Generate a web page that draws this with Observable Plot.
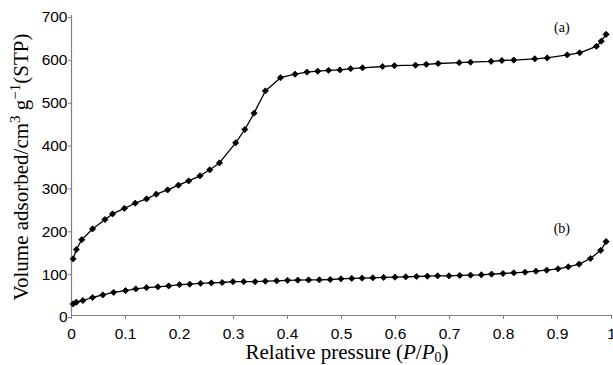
<!DOCTYPE html>
<html>
<head>
<meta charset="utf-8">
<script src="https://cdn.jsdelivr.net/npm/d3@7"></script>
<script src="https://cdn.jsdelivr.net/npm/@observablehq/plot@0.6"></script>
<style>
  html, body { margin: 0; padding: 0; background: #fff; }
  #chart svg { display: block; overflow: hidden; }
</style>
</head>
<body>
<div id="chart"></div>
<script>
// Series (a)
const xA = [0.003,0.009,0.019,0.039,0.062,0.076,0.098,0.118,0.139,0.157,
            0.178,0.198,0.217,0.238,0.256,0.274,0.304,0.321,0.338,0.359,
            0.387,0.414,0.436,0.456,0.476,0.497,0.517,0.539,0.576,0.598,
            0.637,0.657,0.679,0.718,0.739,0.777,0.797,0.819,0.858,0.881,
            0.918,0.941,0.972,0.981,0.99];
const yA = [132,154,177,202,224,237,250,262,272,283,
            293,304,314,326,340,356,403,434,472,524,
            555,563,568,570,572,573,576,578,581,583,
            584,586,588,590,591,593,595,596,599,601,
            608,613,628,640,656];
// Series (b)
const xB = [0.003,0.009,0.021,0.039,0.058,0.078,0.1,0.119,0.139,0.16,
            0.18,0.2,0.219,0.239,0.259,0.279,0.299,0.319,0.34,0.359,
            0.38,0.4,0.419,0.439,0.459,0.479,0.499,0.519,0.538,0.558,
            0.578,0.599,0.619,0.639,0.659,0.678,0.699,0.719,0.739,0.759,
            0.778,0.799,0.819,0.84,0.86,0.88,0.901,0.92,0.94,0.961,
            0.98,0.99];
const yB = [27,31,35,42,48,54,58,62,65,67,
            69,72,73,75,76,77,79,79,79,80,
            81,82,82.5,83,83.3,84,85.6,86.4,87.2,88,
            88.8,89.5,90.3,91,91.8,92.6,92.6,93.4,94.2,95,
            96.5,98,99.6,101,103.5,105.8,109,113.6,119.8,133,
            152,172.5];

const xTicks = [0,0.1,0.2,0.3,0.4,0.5,0.6,0.7,0.8,0.9,1];
const yTicks = [0,100,200,300,400,500,600,700];

const seriesLabels = ["(a)", "(b)"];
const labelX = [0.908, 0.908];
const labelY = [672, 203];

const xTitle = "Relative pressure";
const yTitle = "Volume adsorbed/cm";

const dataA = xA.map((x, i) => ({x, y: yA[i]}));
const dataB = xB.map((x, i) => ({x, y: yB[i]}));
const labels = seriesLabels.map((t, i) => ({t, x: labelX[i], y: labelY[i]}));

const axisColor = "#808080";
const sans = "Liberation Sans";
const serif = "Liberation Serif";

const plot = Plot.plot({
  width: 613,
  height: 365,
  marginLeft: 71,
  marginRight: 2,
  marginTop: 15,
  marginBottom: 50,
  style: {fontFamily: sans, background: "#fff", color: "#000"},
  x: {domain: [0, 1]},
  y: {domain: [0, 700]},
  marks: [
    Plot.axisX({ticks: xTicks, tickFormat: d => String(d), tickSize: 4, tickPadding: 8,
                fontSize: 15.5, fontFamily: sans, label: null, stroke: axisColor}),
    Plot.axisY({ticks: yTicks, tickFormat: d => String(d), tickSize: 3, tickPadding: 1,
                fontSize: 15.5, fontFamily: sans, label: null, stroke: axisColor, dy: 2}),
    Plot.ruleY([0], {stroke: axisColor, strokeWidth: 1.2}),
    Plot.ruleX([0], {stroke: axisColor, strokeWidth: 1.2}),
    Plot.line(dataA, {x: "x", y: "y", stroke: "#000", strokeWidth: 1.3}),
    Plot.dot(dataA, {x: "x", y: "y", symbol: "diamond2", r: 2.8, fill: "#000", stroke: "#000", strokeWidth: 0.8}),
    Plot.line(dataB, {x: "x", y: "y", stroke: "#000", strokeWidth: 1.3}),
    Plot.dot(dataB, {x: "x", y: "y", symbol: "diamond2", r: 2.8, fill: "#000", stroke: "#000", strokeWidth: 0.8}),
    Plot.text(labels, {x: "x", y: "y", text: "t", fontFamily: serif, fontSize: 14, fill: "#000"})
  ]
});

const svg = d3.select(plot);
// X axis title with italic P / P subscript 0
const xt = svg.append("text")
  .attr("x", 347).attr("y", 359)
  .attr("text-anchor", "middle")
  .style("font-family", serif).style("font-size", "21px").attr("fill", "#000");
xt.append("tspan").text(xTitle + " (");
xt.append("tspan").style("font-style", "italic").text("P");
xt.append("tspan").text("/");
xt.append("tspan").style("font-style", "italic").text("P");
xt.append("tspan").style("font-size", "14px").attr("dy", 3).text("0");
xt.append("tspan").attr("dy", -3).text(")");

// Y axis title
const yt = svg.append("text")
  .attr("transform", "translate(28,167) rotate(-90)")
  .attr("text-anchor", "middle")
  .style("font-family", serif).style("font-size", "21px").attr("fill", "#000");
yt.append("tspan").text(yTitle);
yt.append("tspan").style("font-size", "15px").attr("dy", -8).text("3");
yt.append("tspan").attr("dy", 8).text(" g");
yt.append("tspan").style("font-size", "15px").attr("dy", -8).text("\u22121");
yt.append("tspan").attr("dy", 8).text("(STP)");

document.getElementById("chart").appendChild(plot);
</script>
</body>
</html>
